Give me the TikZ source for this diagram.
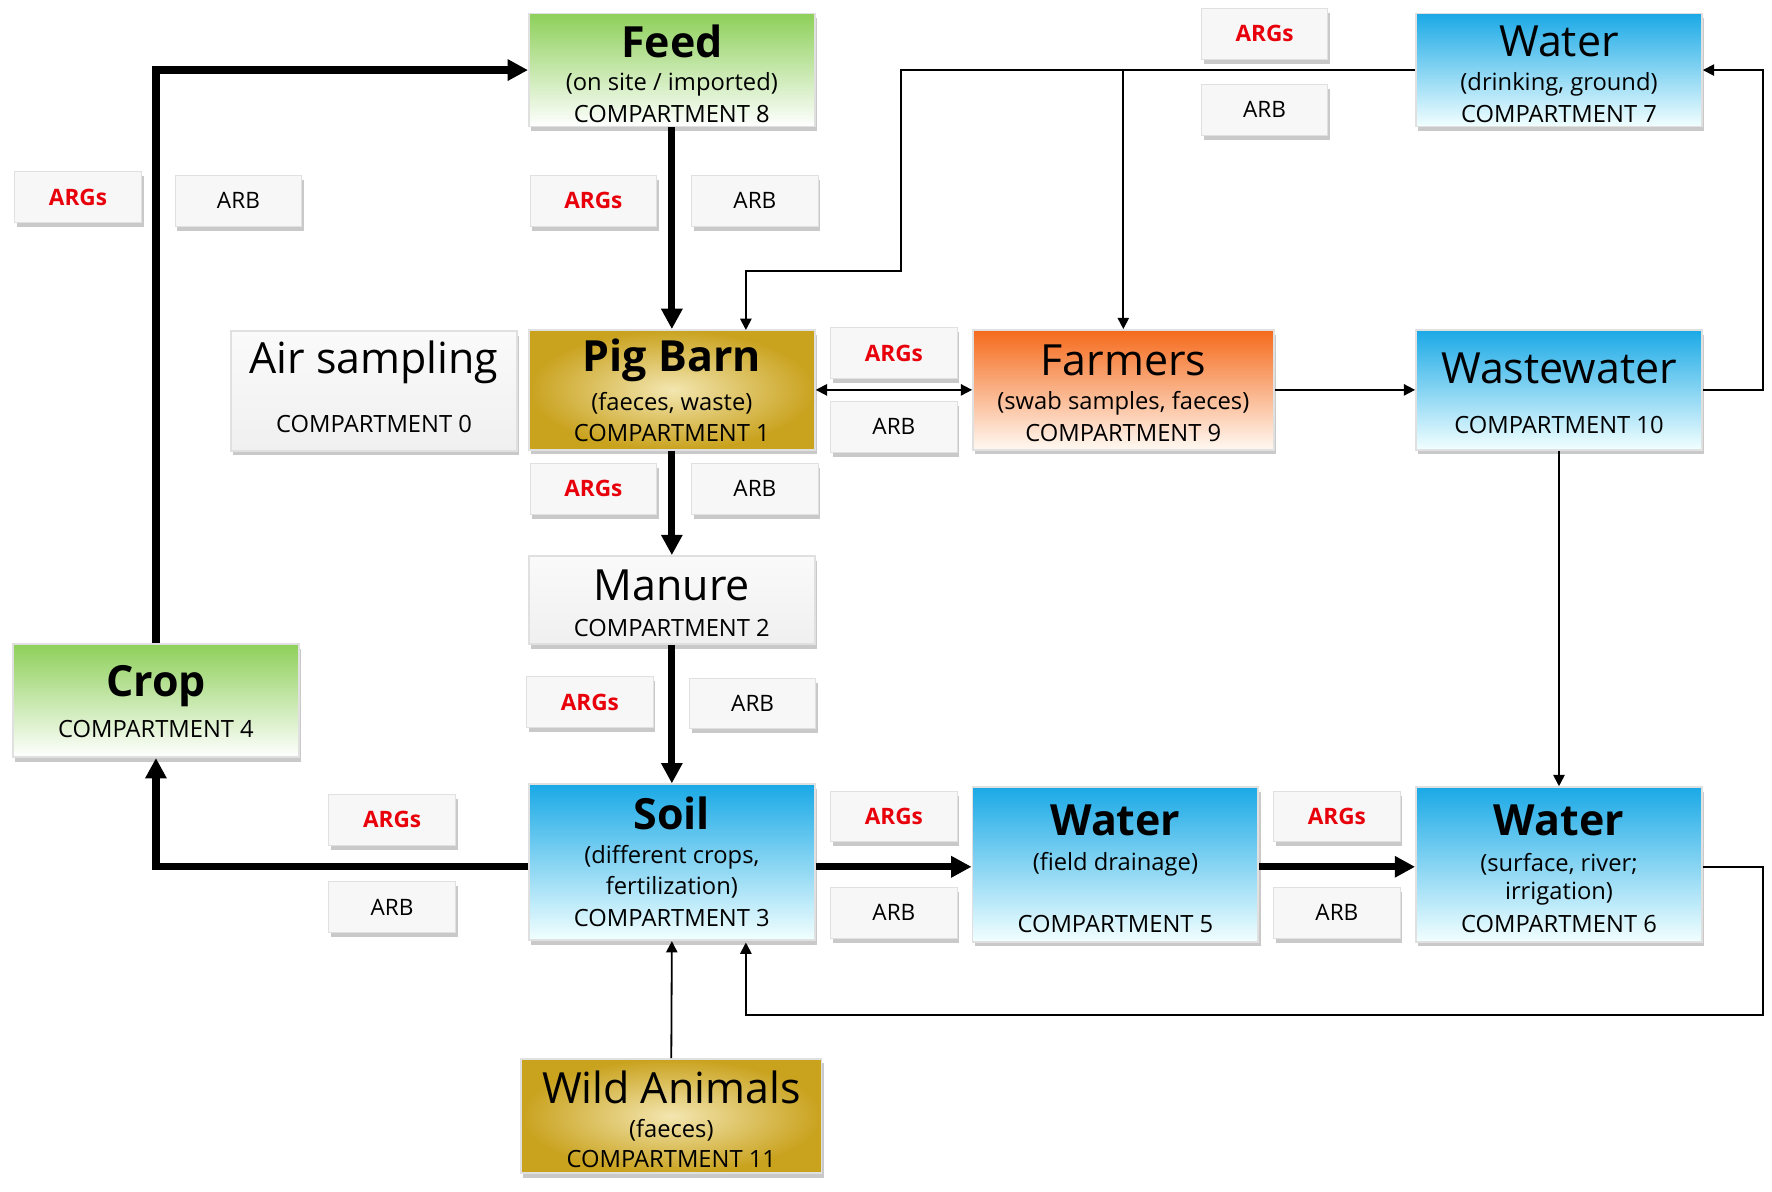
\documentclass[tikz,border=0pt]{standalone}
\usepackage{fontspec}
\setmainfont{Open Sans}
\usetikzlibrary{arrows.meta,shadows}
\definecolor{argred}{HTML}{E8000B}
\definecolor{gtop}{HTML}{8ED05A}
\definecolor{btop}{HTML}{1AA9E6}
\definecolor{gold1}{HTML}{C9A21E}
\definecolor{gold0}{HTML}{F3E6B0}
\definecolor{otop}{HTML}{F56A1B}
\begin{document}
\begin{tikzpicture}[x=0.5pt,y=-0.5pt,
 box/.style={draw=black!12,line width=0.8pt,minimum width=126.5pt,align=center,inner sep=1pt,
   drop shadow={shadow xshift=1pt,shadow yshift=-2pt,fill=black!30,opacity=0.7}},
 tag/.style={draw=black!12,fill=black!3,minimum width=56pt,minimum height=22.5pt,inner sep=0pt,font=\fontsize{10}{12}\selectfont,
   drop shadow={shadow xshift=1pt,shadow yshift=-2pt,fill=black!30,opacity=0.7}},
 args/.style={tag,text=argred,font=\fontsize{10}{12}\selectfont\bfseries},
 arb/.style={tag},
 green/.style={top color=gtop,bottom color=white},
 blue/.style={top color=btop,bottom color=cyan!5},
 grey/.style={top color=black!2,bottom color=black!6},
 gold/.style={inner color=gold0,outer color=gold1},
 orange/.style={top color=otop,bottom color=orange!5},
 ttl/.style={font=\fontsize{19}{22}\selectfont\bfseries},
 ttn/.style={font=\fontsize{19}{22}\selectfont},
 sub/.style={font=\fontsize{10.5}{13}\selectfont},
 thick/.style={line width=3.2pt,-{Triangle[length=9pt,width=9pt]}},
 thin/.style={line width=0.8pt,-{Triangle[length=5pt,width=5pt]}}]
\useasboundingbox (0,0) rectangle (1568,1054);
% main boxes
\node[box,green,minimum height=50pt] (feed) at (594.5,62) {};
\node[ttl] at (594.5,37) {Feed};
\node[sub] at (594.5,75) {(on site / imported)};
\node[sub] at (594.5,101) {COMPARTMENT 8};
\node[box,blue,minimum height=50pt] (w7) at (1379.5,62) {};
\node[ttn] at (1379.5,37) {Water};
\node[sub] at (1379.5,75) {(drinking, ground)};
\node[sub] at (1379.5,101) {COMPARTMENT 7};
\node[box,grey,minimum height=53pt] (air) at (331,346) {};
\node[ttn] at (331,321) {Air sampling};
\node[sub] at (331,375) {COMPARTMENT 0};
\node[box,gold,minimum height=53pt] (pig) at (594.5,345) {};
\node[ttl] at (594.5,319) {Pig Barn};
\node[sub] at (594.5,357) {(faeces, waste)};
\node[sub] at (594.5,383) {COMPARTMENT 1};
\node[box,orange,minimum width=133pt,minimum height=53pt] (farm) at (994,345) {};
\node[ttn] at (994,319) {Farmers};
\node[sub] at (994,357) {(swab samples, faeces)};
\node[sub] at (994,383) {COMPARTMENT 9};
\node[box,blue,minimum height=53pt] (ww) at (1379.5,345) {};
\node[ttn] at (1379.5,326) {Wastewater};
\node[sub] at (1379.5,376) {COMPARTMENT 10};
\node[box,grey,minimum height=39pt] (man) at (594.5,531) {};
\node[ttn] at (594.5,518) {Manure};
\node[sub] at (594.5,556) {COMPARTMENT 2};
\node[box,green,minimum height=50pt] (crop) at (138,620) {};
\node[ttl] at (138,607) {Crop};
\node[sub] at (138,645) {COMPARTMENT 4};
\node[box,blue,minimum height=69pt] (soil) at (594.5,763) {};
\node[ttl] at (594.5,720) {Soil};
\node[sub] at (594.5,759) {(different crops,};
\node[sub] at (594.5,785) {fertilization)};
\node[sub] at (594.5,812) {COMPARTMENT 3};
\node[box,blue,minimum height=68.5pt] (w5) at (987,765) {};
\node[ttl] at (987,726) {Water};
\node[sub] at (987,765) {(field drainage)};
\node[sub] at (987,818) {COMPARTMENT 5};
\node[box,blue,minimum height=68.5pt] (w6) at (1379.5,765) {};
\node[ttl] at (1379.5,726) {Water};
\node[sub] at (1379.5,765) {(surface, river;};
\node[sub] at (1379.5,791) {irrigation)};
\node[sub] at (1379.5,818) {COMPARTMENT 6};
\node[box,gold,minimum width=133pt,minimum height=50.5pt] (wild) at (594,987.5) {};
\node[ttn] at (594,962) {Wild Animals};
\node[sub] at (594,1000) {(faeces)};
\node[sub] at (594,1026) {COMPARTMENT 11};
% tags
\node[args] (t1) at (69,174.5) {ARGs};
\node[arb] (t2) at (211,177.5) {ARB};
\node[args] (t3) at (525,177.5) {ARGs};
\node[arb] (t4) at (668,177.5) {ARB};
\node[args] (t5) at (1119,30) {ARGs};
\node[arb] (t6) at (1119,97) {ARB};
\node[args] (t7) at (791,312.5) {ARGs};
\node[arb] (t8) at (791,377.5) {ARB};
\node[args] (t9) at (525,432.5) {ARGs};
\node[arb] (t10) at (668,432.5) {ARB};
\node[args] (t11) at (522,621.5) {ARGs};
\node[arb] (t12) at (666,622.5) {ARB};
\node[args] (t13) at (347,725.5) {ARGs};
\node[arb] (t14) at (347,802.5) {ARB};
\node[args] (t15) at (791,722.5) {ARGs};
\node[arb] (t16) at (791,807.5) {ARB};
\node[args] (t17) at (1183,722.5) {ARGs};
\node[arb] (t18) at (1183,807.5) {ARB};
% thick arrows
\draw[thick] (crop.north) -- (138,62) -- (feed.west);
\draw[thick] (feed.south) -- (pig.north);
\draw[thick] (pig.south) -- (man.north);
\draw[thick] (man.south) -- (soil.north);
\draw[thick] (soil.west |- 0,767) -- (138,767) -- (crop.south);
\draw[thick] (soil.east |- 0,767) -- (w5.west |- 0,767);
\draw[thick] (w5.east |- 0,767) -- (w6.west |- 0,767);
% thin arrows
\coordinate (j1) at (994,62);
\draw[thin] (w7.west) -- (797,62) -- (797,240) -- (660,240) -- (660,292);
\draw[thin] (j1) -- (farm.north);
\draw[line width=0.8pt,{Triangle[length=5pt,width=5pt]}-{Triangle[length=5pt,width=5pt]}] (pig.east) -- (farm.west);
\draw[thin] (farm.east) -- (ww.west);
\draw[thin] (ww.east) -- (1560,345) -- (1560,62) -- (w7.east);
\draw[thin] (ww.south) -- (w6.north);
\draw[thin] (w6.east |- 0,767) -- (1560,767) -- (1560,898) -- (660,898) -- (660,834);
\draw[thin] (wild.north) -- (soil.south);
\end{tikzpicture}
\end{document}
